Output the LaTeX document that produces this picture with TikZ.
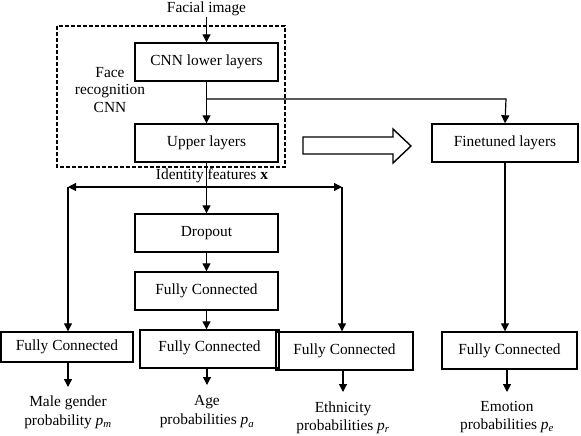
\documentclass[tikz,border=0pt]{standalone}
\usepackage{fontspec}
\setmainfont{Liberation Serif}
\usetikzlibrary{arrows.meta}
\begin{document}
\begin{tikzpicture}[x=1pt,y=-1pt,
  font=\fontsize{15.4}{17.5}\selectfont,
  line width=1.2pt,
  box/.style={draw,inner sep=0pt,line width=1.4pt},
  arr/.style={-{Triangle[length=8pt,width=8pt]}},
  lbl/.style={align=center,inner sep=0pt,font=\fontsize{15.4}{19}\selectfont},
]
\useasboundingbox (0,0) rectangle (581,436);
% dashed frame
\draw[dash pattern=on 4pt off 2pt,line width=1.2pt] (57,26) rectangle (285,167);
\node[inner sep=0pt] (fimg) at (206.5,9) {Facial image};
\node[box,minimum width=143pt,minimum height=38pt] (cnn) at (206.5,62) {CNN lower layers};
\node[box,minimum width=143pt,minimum height=38pt] (upper) at (206.5,143) {Upper layers};
\node[align=center,inner sep=0pt] (frc) at (110,90) {Face\\recognition\\CNN};
\node[box,minimum width=146pt,minimum height=38pt] (fine) at (505,143) {Finetuned layers};
\node[inner sep=0pt] (idf) at (212,176) {Identity features \textbf{x}};
\node[box,minimum width=143pt,minimum height=38pt] (drop) at (206.5,233) {Dropout};
\node[box,minimum width=143pt,minimum height=38pt] (fcm) at (206.5,291) {Fully Connected};
\node[box,minimum width=132pt,minimum height=30pt] (fcg) at (67,347) {Fully Connected};
\node[box,minimum width=139pt,minimum height=38pt,text depth=6pt] (fca) at (209.5,349) {Fully Connected};
\node[box,minimum width=137pt,minimum height=38pt] (fce) at (344.5,351) {Fully Connected};
\node[box,minimum width=135pt,minimum height=37pt] (fco) at (509.5,350.5) {Fully Connected};
% labels
\node[lbl] (lg) at (68,412) {Male gender\\probability \textit{p}\textsubscript{\textit{m}}};
\node[lbl] (la) at (207,412) {Age\\probabilities \textit{p}\textsubscript{\textit{a}}};
\node[lbl,font=\fontsize{15.4}{17.5}\selectfont] (le) at (343,418) {Ethnicity\\probabilities \textit{p}\textsubscript{\textit{r}}};
\node[lbl,font=\fontsize{15.4}{17.5}\selectfont] (lo) at (507,417) {Emotion\\probabilities \textit{p}\textsubscript{\textit{e}}};
% coordinates
\coordinate (br) at (207,99);
\coordinate (brr) at (506,99);
\coordinate (hl) at (68,187);
\coordinate (hr) at (342,187);
\coordinate (eg) at (68,387);
\coordinate (ea) at (207,385);
\coordinate (ee) at (343,392);
\coordinate (eo) at (507,392);
% connectors
\draw[arr] (fimg.south) -- (cnn.north);
\draw[arr] (cnn.south) -- (upper.north);
\draw[arr] (br) -- (brr) -- (fine.north);
\draw[arr] (upper.south) -- (drop.north);
\draw[{Triangle[length=8pt,width=8pt]}-{Triangle[length=8pt,width=8pt]}] (hl) -- (hr);
\draw[arr] (hl) -- (hl |- fcg.north);
\draw[arr] (hr) -- (hr |- fce.north);
\draw[arr] (drop.south) -- (fcm.north);
\draw[arr] (fcm.south) -- (fcm.south |- fca.north);
\draw[arr] (fine.south) -- (fine.south |- fco.north);
\draw[arr] (fcg.south -| eg) -- (eg);
\draw[arr] (fca.south -| ea) -- (ea);
\draw[arr] (fce.south -| ee) -- (ee);
\draw[arr] (fco.south -| eo) -- (eo);
% hollow arrow
\draw[line width=1.4pt] (303,137) -- (393,137) -- (393,129) -- (411,146) -- (393,163) -- (393,154) -- (303,154) -- cycle;
\end{tikzpicture}
\end{document}
